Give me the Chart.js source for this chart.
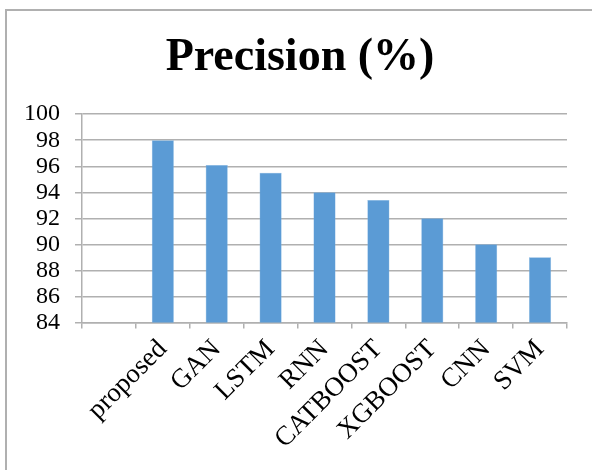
<!DOCTYPE html>
<html>
<head>
<meta charset="utf-8">
<script src="https://cdn.jsdelivr.net/npm/chart.js@4/dist/chart.umd.min.js"></script>
<style>
  html, body { margin: 0; padding: 0; background: #fff; }
  #wrap { position: relative; width: 592px; height: 470px; overflow: hidden; background: #fff; }
  #frame { position: absolute; left: 5px; top: 9px; width: 700px; height: 600px;
           border-left: 2px solid #b0b0b0; border-top: 2px solid #b0b0b0; }
  #c { position: absolute; left: 0; top: 0; }
</style>
</head>
<body>
<div id="wrap">
  <div id="frame"></div>
  <canvas id="c" width="592" height="470"></canvas>
</div>
<script>
// Model names along the x axis (first slot left empty)
const categories = ['', 'proposed', 'GAN', 'LSTM', 'RNN', 'CATBOOST', 'XGBOOST', 'CNN', 'SVM'];
// Precision of each model, in percent
const precision = [null, 98, 96.1, 95.5, 94, 93.4, 92, 90, 89];
// Y axis range and step
const yMin = 84;
const yMax = 100;
const yStep = 2;

const serif = '"Liberation Serif", "Times New Roman", serif';
const gridGray = '#b0b0b0';

// Nudge the title box so the heading sits centred over the labelled plot
const titleShift = {
  id: 'titleShift',
  afterLayout(chart) {
    if (chart.titleBlock) chart.titleBlock.left += 24;
  }
};

new Chart(document.getElementById('c'), {
  type: 'bar',
  data: {
    labels: categories,
    datasets: [{
      label: 'Precision (%)',
      data: precision,
      backgroundColor: '#5B9BD5',
      borderColor: '#7fb2e0',
      borderWidth: 0.5,
      categoryPercentage: 1,
      barPercentage: 0.41
    }]
  },
  plugins: [titleShift],
  options: {
    responsive: false,
    animation: false,
    layout: { padding: { left: 9, right: 25, top: 9, bottom: 10 } },
    plugins: {
      legend: { display: false },
      tooltip: { enabled: false },
      title: {
        display: true,
        text: 'Precision (%)',
        color: '#000',
        font: { family: serif, size: 46, weight: 'bold' },
        padding: { top: 22, bottom: 28 }
      }
    },
    scales: {
      x: {
        offset: true,
        grid: {
          offset: true,
          drawOnChartArea: false,
          drawTicks: true,
          tickLength: 6,
          tickColor: gridGray,
          color: gridGray,
          lineWidth: 1.5
        },
        border: { display: true, color: gridGray, width: 1.5 },
        ticks: {
          color: '#000',
          font: { family: serif, size: 27 },
          minRotation: 45,
          maxRotation: 45,
          autoSkip: false,
          padding: 5
        }
      },
      y: {
        min: yMin,
        max: yMax,
        grid: {
          color: gridGray,
          lineWidth: 1.5,
          drawTicks: true,
          tickLength: 7,
          tickColor: gridGray
        },
        border: { display: true, color: gridGray, width: 1.5 },
        ticks: {
          stepSize: yStep,
          autoSkip: false,
          color: '#000',
          font: { family: serif, size: 24 },
          padding: 15
        }
      }
    }
  }
});
</script>
</body>
</html>
